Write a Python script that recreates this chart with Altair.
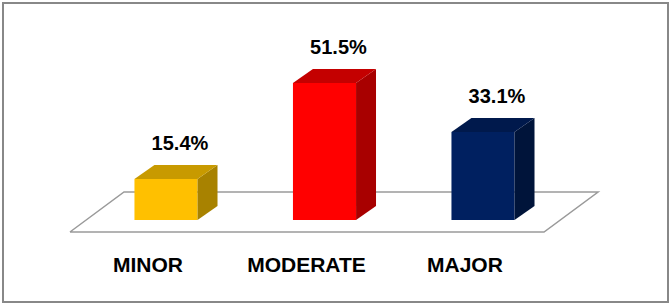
import altair as alt
import pandas as pd

# ---- data ----
categories = ["MINOR", "MODERATE", "MAJOR"]
values = [15.4, 51.5, 33.1]
labels = ["15.4%", "51.5%", "33.1%"]
front_colors = ["#FFC000", "#FF0000", "#002060"]
top_colors = ["#C89A00", "#C40000", "#00194C"]
side_colors = ["#A88200", "#A80000", "#00143A"]

# ---- style / layout constants (data units of the scales) ----
HALF_W = 0.199      # half width of the front face (category units)
DEPTH_X = 0.126     # 3D depth offset along x (category units)
DEPTH_Y = 5.26      # 3D depth offset along y (percent units)
LABEL_DX = 0.088
CAT_DX = -0.114

x_scale = alt.Scale(domain=[-1.0284, 3.1672], nice=False, zero=False)
y_scale = alt.Scale(domain=[-30.83, 81.58], nice=False, zero=False)

idx = list(range(len(categories)))

front = pd.DataFrame({
    "cat": categories,
    "x": [i - HALF_W for i in idx],
    "x2": [i + HALF_W for i in idx],
    "y": [0.0] * len(idx),
    "y2": values,
    "col": front_colors,
})

side_rows = []
for i, c, v, col in zip(idx, categories, values, side_colors):
    side_rows.append({"cat": c, "x": i + HALF_W, "y": 0.0, "y2": v, "col": col})
    side_rows.append({"cat": c, "x": i + HALF_W + DEPTH_X, "y": DEPTH_Y, "y2": v + DEPTH_Y, "col": col})
side = pd.DataFrame(side_rows)

top_rows = []
for i, c, v, col in zip(idx, categories, values, top_colors):
    top_rows.append({"cat": c, "y": v, "x": i - HALF_W, "x2": i + HALF_W, "col": col})
    top_rows.append({"cat": c, "y": v + DEPTH_Y, "x": i - HALF_W + DEPTH_X, "x2": i + HALF_W + DEPTH_X, "col": col})
top = pd.DataFrame(top_rows)

floor = pd.DataFrame({
    "x": [-0.606, 2.385, 2.726, -0.265, -0.606],
    "y": [-4.51, -4.51, 10.53, 10.53, -4.51],
    "o": [0, 1, 2, 3, 4],
})

val_labels = pd.DataFrame({
    "x": [i + LABEL_DX for i in idx],
    "y": [v + DEPTH_Y for v in values],
    "t": labels,
})
cat_labels = pd.DataFrame({
    "x": [i + CAT_DX for i in idx],
    "y": [0.0] * len(idx),
    "t": categories,
})

X = lambda f="x": alt.X(f"{f}:Q", scale=x_scale, axis=None)
Y = lambda f="y": alt.Y(f"{f}:Q", scale=y_scale, axis=None)

floor_layer = alt.Chart(floor).mark_line(color="#9a9a9a", strokeWidth=1.5).encode(
    x=X(), y=Y(), order="o:Q"
)

front_layer = alt.Chart(front).mark_rect().encode(
    x=X(), x2="x2:Q", y=Y(), y2="y2:Q",
    color=alt.Color("col:N", scale=None),
)

side_layer = alt.Chart(side).mark_area(interpolate="linear").encode(
    x=X(), y=Y(), y2="y2:Q",
    color=alt.Color("col:N", scale=None),
    detail="cat:N",
)

top_layer = alt.Chart(top).mark_area(orient="horizontal", interpolate="linear").encode(
    y=Y(), x=X(), x2="x2:Q",
    color=alt.Color("col:N", scale=None),
    detail="cat:N",
)

label_layer = alt.Chart(val_labels).mark_text(
    font="Liberation Sans", fontWeight="bold", fontSize=20, color="#000000",
    baseline="alphabetic", align="center", dy=-15,
).encode(x=X(), y=Y(), text="t:N")

cat_layer = alt.Chart(cat_labels).mark_text(
    font="Liberation Sans", fontWeight="bold", fontSize=21, color="#000000",
    baseline="alphabetic", align="center", dy=52,
).encode(x=X(), y=Y(), text="t:N")

chart = alt.layer(
    floor_layer, front_layer, side_layer, top_layer, label_layer, cat_layer
).properties(
    width=665, height=299,
    padding={"left": 3, "right": 3, "top": 3, "bottom": 3},
    autosize=alt.AutoSizeParams(type="none"),
    background="white",
).configure_view(
    stroke="#888888", strokeWidth=2,
)

chart.save("out.html", embed_options={"renderer": "svg", "actions": False})
